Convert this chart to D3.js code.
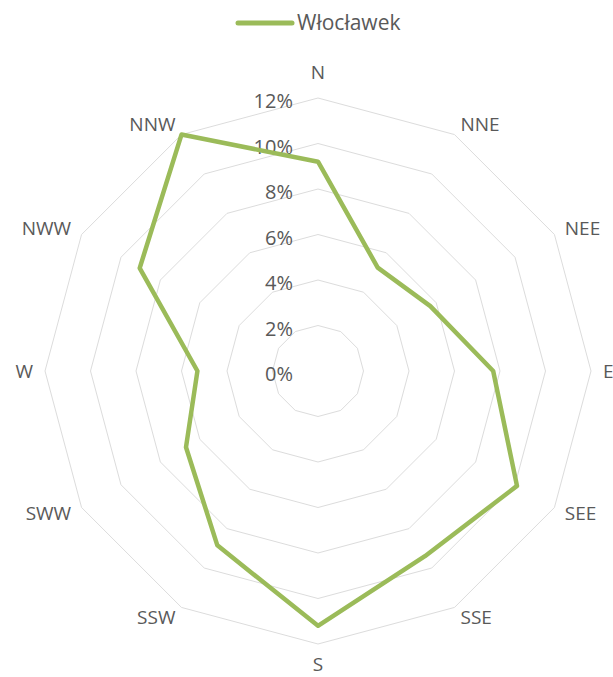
<!DOCTYPE html>
<html>
<head>
<meta charset="utf-8">
<script src="https://cdn.jsdelivr.net/npm/d3@7"></script>
<style>
  body { margin: 0; background: #fff; }
  svg text { font-family: "Open Sans", sans-serif; fill: #595959; }
</style>
</head>
<body>
<svg id="chart" width="613" height="677"></svg>
<script>
// Wind direction categories and frequency (%)
const directions = ["N", "NNE", "NEE", "E", "SEE", "SSE", "S", "SSW", "SWW", "W", "NWW", "NNW"];
const frequency = [9.2, 5.25, 5.7, 7.7, 10.1, 9.4, 11.2, 8.85, 6.7, 5.3, 9.05, 12.0];
const ticks = [0, 2, 4, 6, 8, 10, 12];
const seriesName = "Włocławek";

const svg = d3.select("#chart");
const cx = 318, cy = 371, R = 273;

const r = d3.scaleLinear().domain([0, 12]).range([0, R]);
const angle = d3.scalePoint().domain(directions).range([0, 2 * Math.PI * (1 - 1 / directions.length)]);

const pt = (a, rad) => [cx + rad * Math.sin(a), cy - rad * Math.cos(a)];

// Grid rings (no spokes)
const ring = d3.line().curve(d3.curveLinearClosed);
svg.append("g").selectAll("path")
    .data(ticks.filter(t => t > 0))
    .join("path")
    .attr("d", t => ring(directions.map(d => pt(angle(d), r(t)))))
    .attr("fill", "none")
    .attr("stroke", "#dcdcdc")
    .attr("stroke-width", 1);

// Tick labels
svg.append("g").selectAll("text")
    .data(ticks)
    .join("text")
    .attr("x", cx - 25)
    .attr("y", t => cy - r(t) + 3)
    .attr("dy", "0.35em")
    .attr("text-anchor", "end")
    .attr("font-size", 20)
    .text(t => t + "%");

// Category labels
svg.append("g").selectAll("text")
    .data(directions)
    .join("text")
    .each(function (d) {
        const a = angle(d);
        const s = Math.sin(a), c = Math.cos(a);
        const mid = Math.abs(s) < 0.01;
        const pad = mid ? (c > 0 ? 26 : 20) : 12;
        const [x, y] = pt(a, R + pad);
        d3.select(this)
            .attr("x", x)
            .attr("y", y)
            .attr("dy", "0.35em")
            .attr("text-anchor", mid ? "middle" : (s > 0 ? "start" : "end"));
    })
    .attr("font-size", 19)
    .text(d => d);

// Series
svg.append("path")
    .attr("d", ring(directions.map((d, i) => pt(angle(d), r(frequency[i])))))
    .attr("fill", "none")
    .attr("stroke", "#9bbb59")
    .attr("stroke-width", 4.5)
    .attr("stroke-linejoin", "round");

// Legend
const legend = svg.append("g");
legend.append("line")
    .attr("x1", 238).attr("x2", 292)
    .attr("y1", 23).attr("y2", 23)
    .attr("stroke", "#9bbb59")
    .attr("stroke-width", 5)
    .attr("stroke-linecap", "round");
legend.append("text")
    .attr("x", 297).attr("y", 23)
    .attr("dy", "0.35em")
    .attr("font-size", 21)
    .text(seriesName);
</script>
</body>
</html>
